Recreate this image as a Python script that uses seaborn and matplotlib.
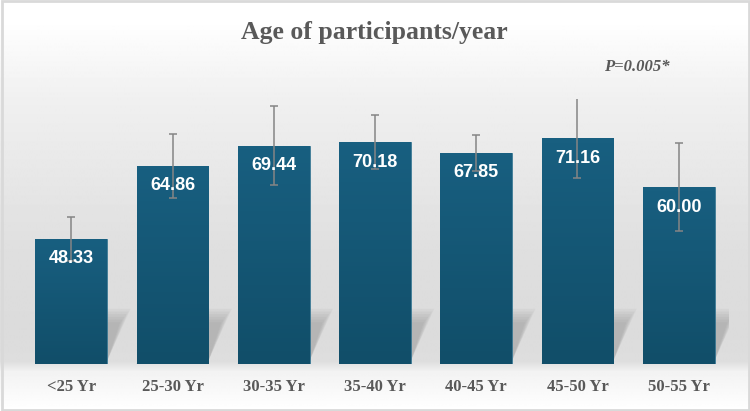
import numpy as np
import pandas as pd
import matplotlib
matplotlib.use('Agg')
import matplotlib.pyplot as plt
import seaborn as sns
from matplotlib.colors import LinearSegmentedColormap
from matplotlib.patches import Polygon, Rectangle

# data
groups = ['<25 Yr', '25-30 Yr', '30-35 Yr', '35-40 Yr', '40-45 Yr', '45-50 Yr', '50-55 Yr']
mean_age = [48.33, 64.86, 69.44, 70.18, 67.85, 71.16, 60.00]
sd_age = [5.0, 7.2, 9.0, 6.1, 4.1, 9.1, 10.0]
ptitle = 'Age of participants/year'
pnote = 'P=0.005*'

df = pd.DataFrame({'group': groups, 'age': mean_age, 'sd': sd_age})

sns.set_style('white')
plt.rcParams['font.family'] = ['Liberation Serif', 'DejaVu Serif']

W, H = 750, 411
fig = plt.figure(figsize=(7.5, 4.11), dpi=100)

# background gradient (whole figure)
bg = fig.add_axes([0, 0, 1, 1], zorder=0)
yy = np.linspace(0, 1, 411)  # 0 = top
shade = np.interp(yy * H, [0, 20, 100, 250, 330, 362, 372, 411],
                  [1.0, 1.0, 0.94, 0.875, 0.86, 0.87, 0.95, 1.0])
img = np.repeat(shade[:, None], 10, axis=1)
bg.imshow(img, cmap='gray', vmin=0, vmax=1, aspect='auto', extent=[0, 1, 0, 1],
          origin='upper')
bg.add_patch(Rectangle((0.002, 0.003), 0.996, 0.994, fill=False, ec='#d9d9d9', lw=2,
                       transform=bg.transAxes))
bg.set_axis_off()

ymin, ymax = 20, 80
ax = fig.add_axes([20.7 / W, 47 / H, (729.3 - 20.7) / W, 265 / H], zorder=1)
ax.patch.set_alpha(0)
sns.barplot(data=df, x='group', y='age', color='#155a79', width=0.71,
            saturation=1, ax=ax, errorbar=None)

# bar shadows and gradient fill
grad = LinearSegmentedColormap.from_list('bar', ['#114e69', '#185f80'])
for p in ax.patches:
    x0 = p.get_x()
    x1 = x0 + p.get_width()
    top = p.get_height() + p.get_y()
    for k in range(6):
        dx = 0.13 + 0.02 * k
        dy = 9.5 + 0.6 * k
        sh = Polygon([(x0, ymin), (x1, ymin + 0.8), (x1 + dx, ymin + dy), (x0 + dx, ymin + dy)],
                     closed=True, fc='#808080', ec='none', alpha=0.08, zorder=1)
        ax.add_patch(sh)
    p.set_zorder(2)
    p.set_facecolor('none')
    p.set_edgecolor('#2a6e8c')
    p.set_linewidth(0.6)
    im = ax.imshow(np.linspace(0, 1, 50)[:, None], cmap=grad, aspect='auto',
                   extent=[x0, x1, ymin, top], origin='lower', zorder=2)
    im.set_clip_path(p)
ax.set_xlim(-0.5, 6.5)
ax.set_ylim(ymin, ymax)

ax.errorbar(range(len(groups)), mean_age, yerr=sd_age, fmt='none', ecolor='#858585',
            elinewidth=1.1, capsize=3, capthick=1.1, zorder=4)

for i, v in enumerate(mean_age):
    ax.annotate(f'{v:.2f}', (i, v), xytext=(0, -20), textcoords='offset pixels',
                ha='center', va='center', color='white', fontsize=13, fontweight='bold',
                family=['Liberation Sans', 'DejaVu Sans'], zorder=5)

sns.despine(ax=ax, left=True, bottom=True)
ax.set_yticks([])
ax.set_xlabel('')
ax.set_ylabel('')
ax.tick_params(axis='x', length=0, pad=11)
ax.set_xticks(range(len(groups)))
ax.set_xticklabels(groups, fontsize=12, fontweight='bold', color='#595959')

fig.text(374 / W, 1 - 33 / H, ptitle, ha='center', va='center', fontsize=18.5,
         fontweight='bold', color='#595959')
fig.text(637 / W, 1 - 67 / H, pnote, ha='center', va='center', fontsize=12,
         fontweight='bold', fontstyle='italic', color='#595959')

plt.savefig('out.png', dpi=100)
